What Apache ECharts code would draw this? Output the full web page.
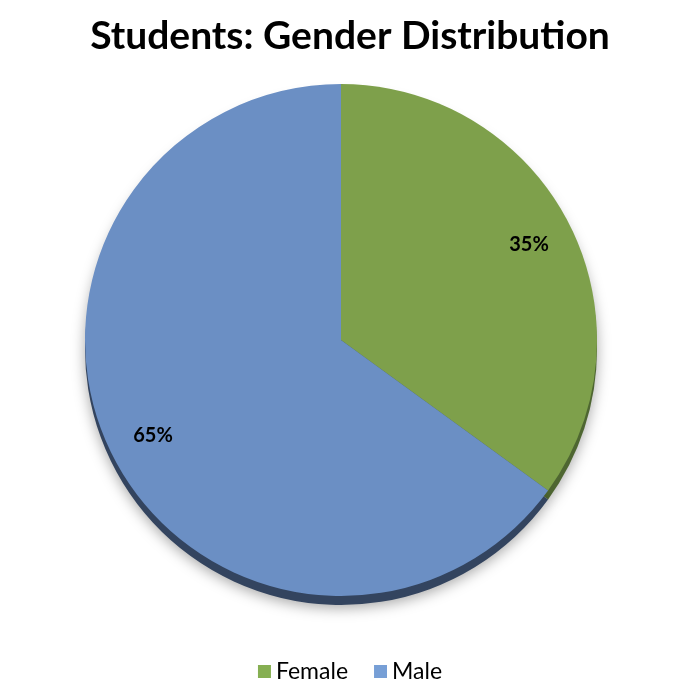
<!DOCTYPE html>
<html>
<head>
<meta charset="utf-8">
<script src="https://cdn.jsdelivr.net/npm/echarts@6/dist/echarts.min.js"></script>
<style>html,body{margin:0;padding:0;background:#fff}#c{width:700px;height:700px}</style>
</head>
<body>
<div id="c"></div>
<script>
const categories = ['Female', 'Male'];
const values = [35, 65];
const colors = ['#7EA04B', '#6B8FC4'];
const edgeColors = ['#4E6631', '#33445F'];
const legendColors = ['#86AF52', '#779FD6'];

const chart = echarts.init(document.getElementById('c'), null, {renderer: 'canvas'});
const center = [341, 340];
const R = 256;
chart.setOption({
  animation: false,
  title: {
    text: 'Students: Gender Distribution',
    left: 'center', top: 12,
    textStyle: {fontFamily: 'Lato', fontWeight: 'bold', fontSize: 39, color: '#000'}
  },
  legend: {
    bottom: 12, left: 'center',
    itemWidth: 13, itemHeight: 13, itemGap: 26,
    icon: 'rect',
    textStyle: {fontFamily: 'Lato', fontSize: 23, color: '#000'},
    data: categories.map((c, i) => ({name: c, itemStyle: {color: legendColors[i]}}))
  },
  series: [
    {
      type: 'pie', silent: true, center: [center[0], center[1] + 9], radius: R,
      startAngle: 90, clockwise: true,
      label: {show: false}, labelLine: {show: false},
      itemStyle: {shadowBlur: 14, shadowColor: 'rgba(0,0,0,0.35)', shadowOffsetY: 3},
      data: categories.map((c, i) => ({name: c + ' ', value: values[i], itemStyle: {color: edgeColors[i]}}))
    },
    {
      type: 'pie', center: center, radius: R,
      startAngle: 90, clockwise: true,
      label: {show: false}, labelLine: {show: false},
      data: categories.map((c, i) => ({name: c, value: values[i], itemStyle: {color: colors[i]}}))
    },
    {
      type: 'pie', silent: true, center: center, radius: [160, R],
      startAngle: 90, clockwise: true,
      itemStyle: {color: 'transparent'},
      label: {show: true, position: 'inside', formatter: '{d}%', fontFamily: 'Lato', fontWeight: 'bold', fontSize: 20, color: '#000'},
      labelLine: {show: false},
      data: categories.map((c, i) => ({name: c + '  ', value: values[i]}))
    }
  ]
});
</script>
</body>
</html>
